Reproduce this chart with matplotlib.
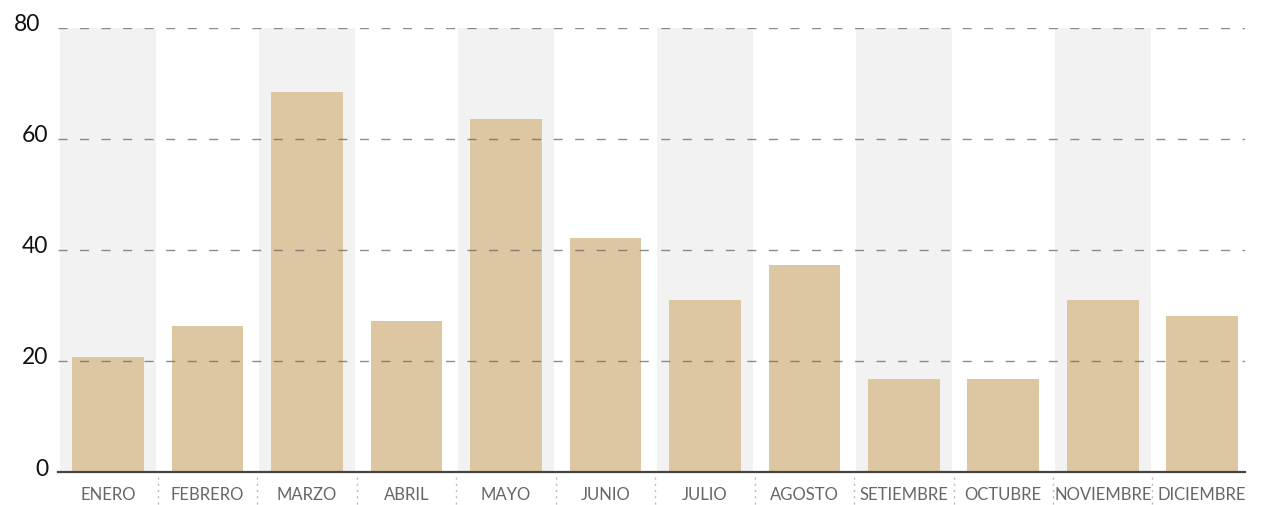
import matplotlib
matplotlib.use("Agg")
import matplotlib.pyplot as plt
import matplotlib.transforms as mtransforms

months = ["ENERO", "FEBRERO", "MARZO", "ABRIL", "MAYO", "JUNIO", "JULIO",
          "AGOSTO", "SETIEMBRE", "OCTUBRE", "NOVIEMBRE", "DICIEMBRE"]
values = [20.7, 26.3, 68.5, 27.2, 63.6, 42.2, 31.0, 37.3, 16.8, 16.8, 31.0, 28.1]
y_ticks = [0, 20, 40, 60, 80]

plt.rcParams['lines.scale_dashes'] = False
plt.rcParams['font.family'] = ['Lato', 'DejaVu Sans']

W, H = 1263, 506
fig = plt.figure(figsize=(W / 100, H / 100), dpi=100)
left, right, bottom, top = 58, 1245, 473, 29
ax = fig.add_axes([left / W, 1 - bottom / H, (right - left) / W, (bottom - top) / H])

x = list(range(len(months)))
# alternating background bands
for i in x:
    if i % 2 == 0:
        ax.axvspan(i - 0.48, i + 0.48, ymin=0, ymax=1, color='#f2f2f2', zorder=0, lw=0)

ax.bar(x, values, width=0.72, color='#ddc6a2', zorder=2)

for yv in y_ticks[1:]:
    ax.axhline(yv, color='#666666', lw=1.0, ls=(0, (6.5, 9)), alpha=0.75, zorder=3)

ax.set_xlim(-0.503, 11.43)
ax.set_ylim(0, 80)

for s in ['top', 'right', 'left']:
    ax.spines[s].set_visible(False)
ax.spines['bottom'].set_color('#444444')
ax.spines['bottom'].set_linewidth(1.6)
ax.spines['bottom'].set_zorder(4)

ax.set_yticks(y_ticks)
ax.set_yticklabels([str(v) for v in y_ticks], fontsize=16.5, color='#111111')
ax.tick_params(axis='y', length=0, pad=7)
shift_up = mtransforms.ScaledTranslation(0, 6 / 100, fig.dpi_scale_trans)
for lab in ax.get_yticklabels():
    lab.set_transform(lab.get_transform() + shift_up)
ylabs = ax.get_yticklabels()
ylabs[-1].set_transform(ylabs[-1].get_transform() +
                        mtransforms.ScaledTranslation(-8 / 100, 0, fig.dpi_scale_trans))

ax.set_xticks(x)
ax.set_xticklabels(months, fontsize=12, color='#666666')
ax.tick_params(axis='x', length=0, pad=10)

trans = mtransforms.blended_transform_factory(ax.transData, ax.transAxes)
for i in x[:-1]:
    ax.plot([i + 0.5, i + 0.5], [-0.011, -0.077], transform=trans, clip_on=False,
            color='#bbbbbb', lw=1.0, ls=(0, (1.5, 3)))

fig.savefig("out.png", dpi=100)
